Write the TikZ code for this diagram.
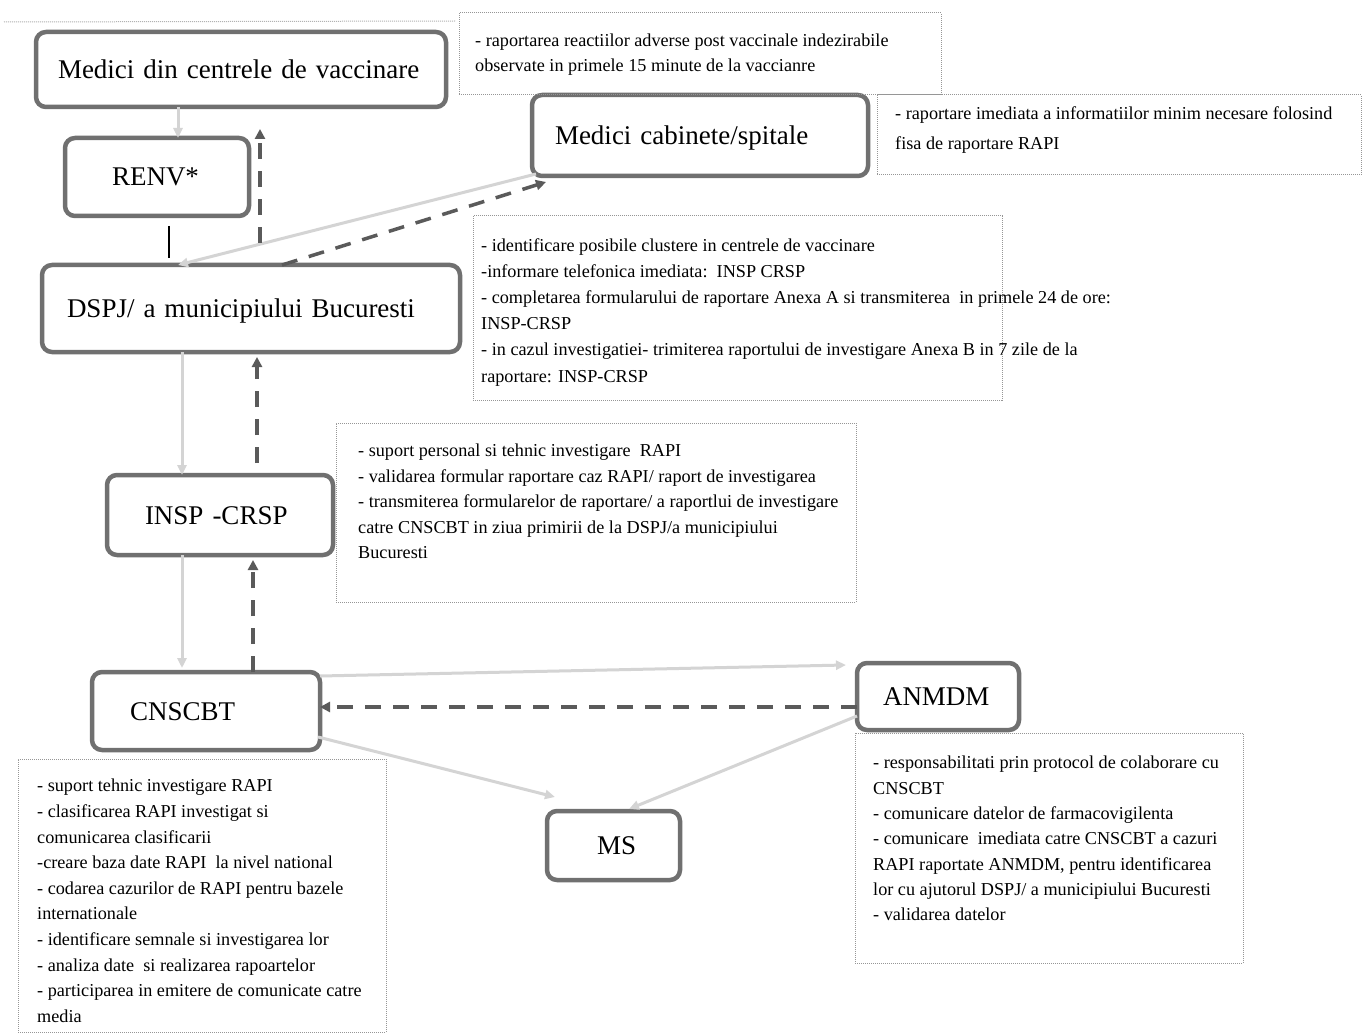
\documentclass[tikz,border=0pt]{standalone}
\usepackage{fontspec}
\setmainfont{Liberation Serif}
\usetikzlibrary{arrows.meta,calc}
\definecolor{boxgray}{RGB}{112,112,112}
\definecolor{notegray}{RGB}{150,150,150}
\definecolor{lightln}{RGB}{212,212,212}
\definecolor{darkln}{RGB}{90,90,90}
\begin{document}
\begin{tikzpicture}[x=1pt,y=-1pt,
  mainbox/.style={draw=boxgray, line width=4.5pt, rounded corners=10pt, fill=white,
    anchor=north west, align=left, inner ysep=0pt, outer sep=0pt,
    text height=24pt, text depth=6pt,
    font=\fontsize{27}{31}\selectfont},
  notebox/.style={draw=notegray, line width=1pt, densely dotted, anchor=north west,
    inner sep=0pt, outer sep=0pt},
  notetext/.style={anchor=north west, inner sep=0pt, align=left},
  lightarrow/.style={draw=lightln, line width=3pt, -{Triangle[length=10pt,width=9pt]}},
  darkarrow/.style={draw=darkln, line width=3.5pt, dash pattern=on 16pt off 12pt,
    -{Triangle[length=10pt,width=10pt]}},
  thinline/.style={draw=black, line width=1.3pt}
]
\useasboundingbox (0,0) rectangle (1369,1035);
\fill[white] (0,0) rectangle (1369,1035);
\draw[gray!60, densely dotted, line width=1pt] (4,22) -- (456,21);

% main boxes
\node[mainbox, text width=366pt, inner xsep=22pt, minimum height=75pt] (m1) at (36,32) {\mbox{Medici din centrele de vaccinare}};
\node[mainbox, text width=90pt, inner xsep=47pt, minimum height=78pt] (renv) at (65,138) {\mbox{RENV*}};
\node[mainbox, text width=290pt, inner xsep=23pt, minimum height=81pt] (cab) at (532,95) {\mbox{Medici cabinete/spitale}};
\node[mainbox, text width=368pt, inner xsep=25pt, minimum height=87pt] (dspj) at (42,265) {\mbox{DSPJ/ a municipiului Bucuresti}};
\node[mainbox, text width=150pt, inner xsep=38pt, minimum height=80pt] (insp) at (107,475) {\mbox{INSP -CRSP}};
\node[mainbox, text width=152pt, inner xsep=38pt, minimum height=78pt] (cns) at (92,672) {\mbox{CNSCBT}};
\node[mainbox, text width=110pt, inner xsep=26pt, minimum height=67pt] (anm) at (857,663) {\mbox{ANMDM}};
\node[mainbox, text width=33pt, inner xsep=50pt, minimum height=69pt] (ms) at (547,811) {\mbox{MS}};

% note frames
\node[notebox, minimum width=482pt, minimum height=82pt] (fa) at (459,13) {};
\node[notebox, minimum width=484pt, minimum height=80pt] (fb) at (877,95) {};
\node[notebox, minimum width=529pt, minimum height=184pt] (fc) at (473,216) {};
\node[notebox, minimum width=520pt, minimum height=179pt] (fd) at (336,423) {};
\node[notebox, minimum width=368pt, minimum height=273pt] (fe) at (18,759) {};
\node[notebox, minimum width=388pt, minimum height=230pt] (ff) at (855,733) {};

% note texts
\node[notetext, font=\fontsize{18.2}{25}\selectfont] (ta) at (475,34) {- raportarea reactiilor adverse post vaccinale indezirabile\\observate in primele 15 minute de la vaccianre};
\node[notetext, font=\fontsize{18.2}{30}\selectfont] (tb) at (895,106) {- raportare imediata a informatiilor minim necesare folosind\\fisa de raportare RAPI};
\node[notetext, font=\fontsize{18.2}{26.2}\selectfont] (tc) at (481,238) {- identificare posibile clustere in centrele de vaccinare\\-informare telefonica imediata:\ \ INSP CRSP\\- completarea formularului de raportare Anexa A si transmiterea\ \ in primele 24 de ore:\\INSP-CRSP\\- in cazul investigatiei- trimiterea raportului de investigare Anexa B in 7 zile de la\\raportare: INSP-CRSP};
\node[notetext, font=\fontsize{18.2}{25.5}\selectfont] (td) at (358,444) {- suport personal si tehnic investigare\ \ RAPI\\- validarea formular raportare caz RAPI/ raport de investigarea\\- transmiterea formularelor de raportare/ a raportlui de investigare\\catre CNSCBT in ziua primirii de la DSPJ/a municipiului\\Bucuresti};
\node[notetext, font=\fontsize{18.2}{25.6}\selectfont] (te) at (37,779) {- suport tehnic investigare RAPI\\- clasificarea RAPI investigat si\\comunicarea clasificarii\\-creare baza date RAPI\ \ la nivel national\\- codarea cazurilor de RAPI pentru bazele\\internationale\\- identificare semnale si investigarea lor\\- analiza date\ \ si realizarea rapoartelor\\- participarea in emitere de comunicate catre\\media};
\node[notetext, font=\fontsize{18.2}{25.3}\selectfont] (tf) at (873,756) {- responsabilitati prin protocol de colaborare cu\\CNSCBT\\- comunicare datelor de farmacovigilenta\\- comunicare\ \ imediata catre CNSCBT a cazuri\\RAPI raportate ANMDM, pentru identificarea\\lor cu ajutorul DSPJ/ a municipiului Bucuresti\\- validarea datelor};

% connectors
\draw[lightarrow] (m1.south -| 178,0) -- (renv.north -| 178,0);
\draw[thinline, shorten <=10pt, shorten >=7pt] (renv.south -| 169,0) -- (dspj.north -| 169,0);
\draw[lightarrow] ($(cab.south west)+(4,-2)$) -- (dspj.north -| 178,0);
\draw[darkarrow, shorten <=22pt, shorten >=22pt] (dspj.north -| 260,0) -- (m1.south -| 260,0);
\draw[darkarrow] (dspj.north -| 282,0) -- ($(cab.south west)+(14,6)$);
\draw[lightarrow] (dspj.south -| 182,0) -- (insp.north -| 182,0);
\draw[darkarrow, shorten <=12pt, shorten >=5pt] (insp.north -| 257,0) -- (dspj.south -| 257,0);
\draw[lightarrow, shorten >=4pt] (insp.south -| 182,0) -- (cns.north -| 182,0);
\draw[darkarrow, shorten >=5pt] (cns.north -| 253,0) -- (insp.south -| 253,0);
\draw[lightarrow] ($(cns.north east)+(0,4)$) -- ($(anm.north west)+(-11,2)$);
\draw[darkarrow] (anm.west |- 0,707) -- (cns.east |- 0,707);
\draw[lightarrow] ($(cns.east)+(-2,26)$) -- ($(ms.north west)+(8,-14)$);
\draw[lightarrow] ($(anm.south west)+(0,-14)$) -- ($(ms.north west)+(82,-2)$);
\end{tikzpicture}
\end{document}
